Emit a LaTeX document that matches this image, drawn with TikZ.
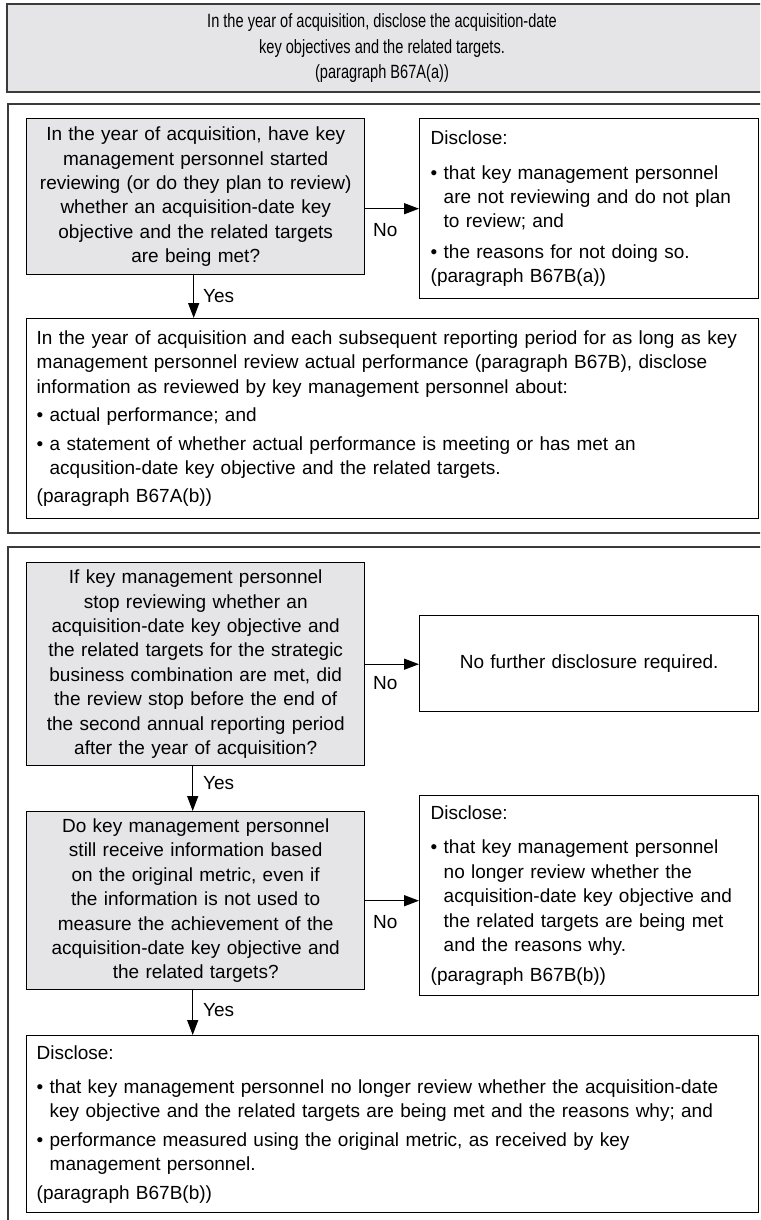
\documentclass[tikz,border=0pt]{standalone}
\usepackage{fontspec}
\setmainfont{Liberation Sans}
\newfontfamily\narrowfont[FakeStretch=0.76]{Liberation Sans}
\usetikzlibrary{arrows.meta}
\definecolor{boxgray}{HTML}{E5E5E7}
\definecolor{framecol}{HTML}{3A3A3A}
\newcommand{\bul}{\textbullet\ }
\newcommand{\ind}{\hphantom{\textbullet\ }}
\tikzset{
  framebox/.style={draw=framecol, line width=2pt},
  basebox/.style={anchor=north west, draw=black, line width=1.4pt, inner ysep=0pt},
  qbox/.style={basebox, fill=boxgray, align=center, text width=338pt, inner xsep=0pt},
  rbox/.style={basebox, fill=white, align=left, text width=317pt, inner xsep=11pt},
  wbox/.style={basebox, fill=white, align=left, text width=712pt, inner xsep=10pt},
  arr/.style={line width=1.4pt, -{Triangle[length=15pt,width=11pt]}},
  lab/.style={anchor=west, inner sep=0pt},
}
\begin{document}
\begin{tikzpicture}[x=1pt,y=-1pt,font=\fontsize{19}{24.4}\selectfont]
\clip (0,0) rectangle (760,1220);
\fill[white] (0,0) rectangle (760,1220);
% top banner
\filldraw[fill=boxgray, framebox] (7,4) rectangle (800,92);
\node[align=center, font=\narrowfont\fontsize{19.2}{25.5}\selectfont] (top) at (382,48.5)
  {In the year of acquisition, disclose the acquisition-date\\key objectives and the related targets.\\(paragraph B67A(a))};
% section frames
\draw[framebox] (8,104) rectangle (800,533);
\draw[framebox] (8,547) rectangle (800,1240);

% section 2
\node[qbox, minimum height=156pt] (q1) at (26,118)
  {In the year of acquisition, have key\\management personnel started\\reviewing (or do they plan to review)\\whether an acquisition-date key\\objective and the related targets\\are being met?};
\node[rbox, minimum height=180pt] (r1) at (419,118)
  {Disclose:\\[10pt]\bul that key management personnel\\\ind are not reviewing and do not plan\\\ind to review; and\\[6pt]\bul the reasons for not doing so.\\(paragraph B67B(a))};
\node[wbox, minimum height=200pt] (b3) at (26,318)
  {In the year of acquisition and each subsequent reporting period for as long as key\\management personnel review actual performance (paragraph B67B), disclose\\information as reviewed by key management personnel about:\\[4pt]\bul actual performance; and\\[4pt]\bul a statement of whether actual performance is meeting or has met an\\\ind acqusition-date key objective and the related targets.\\[4pt](paragraph B67A(b))};
\draw[arr] ([yshift=-12pt]q1.east) -- ([yshift=-12pt]q1.east -| r1.west);
\node[lab] (no1) at (373,230) {No};
\draw[arr] ([xshift=-2pt]q1.south) -- ([xshift=-2pt]q1.south |- b3.north);
\node[lab] (yes1) at (203,296) {Yes};

% section 3
\node[qbox, minimum height=203pt] (q2) at (26,562)
  {If key management personnel\\stop reviewing whether an\\acquisition-date key objective and\\the related targets for the strategic\\business combination are met, did\\the review stop before the end of\\the second annual reporting period\\after the year of acquisition?};
\node[rbox, align=center, minimum height=96pt] (r2) at (419,615)
  {No further disclosure required.};
\draw[arr] (q2.east) -- (q2.east -| r2.west);
\node[lab] (no2) at (373,683) {No};
\draw[arr] ([xshift=-3pt]q2.south) -- ([xshift=-3pt]q2.south |- 0,811);
\node[lab] (yes2) at (203,783) {Yes};

\node[qbox, minimum height=178pt] (q3) at (26,811)
  {Do key management personnel\\still receive information based\\on the original metric, even if\\the information is not used to\\measure the achievement of the\\acquisition-date key objective and\\the related targets?};
\node[rbox, minimum height=200pt] (r3) at (419,795)
  {Disclose:\\[10pt]\bul that key management personnel\\\ind no longer review whether the\\\ind acquisition-date key objective and\\\ind the related targets are being met\\\ind and the reasons why.\\[6pt](paragraph B67B(b))};
\draw[arr] (q3.east) -- (q3.east -| r3.west);
\node[lab] (no3) at (373,922) {No};
\node[wbox, minimum height=177pt] (r4) at (26,1035)
  {Disclose:\\[10pt]\bul that key management personnel no longer review whether the acquisition-date\\\ind key objective and the related targets are being met and the reasons why; and\\[4pt]\bul performance measured using the original metric, as received by key\\\ind management personnel.\\[4pt](paragraph B67B(b))};
\draw[arr] ([xshift=-3pt]q3.south) -- ([xshift=-3pt]q3.south |- r4.north);
\node[lab] (yes3) at (203,1010) {Yes};
\end{tikzpicture}
\end{document}
